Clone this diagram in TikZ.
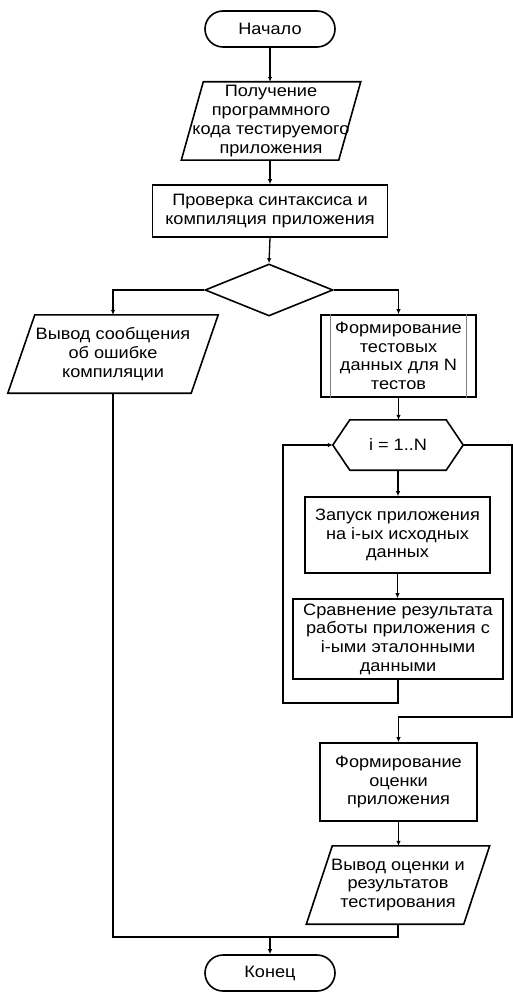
\documentclass[tikz,border=0pt]{standalone}
\usepackage{fontspec}
\setmainfont{Liberation Sans}[FakeStretch=1.1]
\usetikzlibrary{arrows.meta,shapes.geometric}
\newcommand\ftxt{\fontsize{16.5}{18.7}\selectfont}
\begin{document}
\begin{tikzpicture}[x=1pt,y=-1pt,
  outl/.style={draw,line width=1.6pt},
  blk/.style={outl,inner sep=0pt,align=center,font=\ftxt},
  txt/.style={inner sep=0pt,align=center,font=\ftxt},
  term/.style={blk,rounded corners=18pt,minimum width=130pt,minimum height=36pt},
  conn/.style={line width=1.3pt},
  arr/.style={conn,-{Latex[length=5pt,width=4.5pt]}},
  inner/.style={draw=gray,line width=1.2pt}]
\useasboundingbox (0,0) rectangle (513,992);

\node[term] (beg) at (270,29) {Начало};

\node[txt,minimum width=150pt,minimum height=78pt] (p1) at (271,121)
  {Получение\\программного\\кода тестируемого\\приложения};
\draw[outl] ([xshift=11pt]p1.north west) -- ([xshift=11pt]p1.north east)
  -- ([xshift=-11pt]p1.south east) -- ([xshift=-11pt]p1.south west) -- cycle;

\node[blk,minimum width=235pt,minimum height=52pt] (chk) at (270,211)
  {Проверка синтаксиса и\\компиляция приложения};

\node[outl,diamond,minimum width=128pt,minimum height=52pt,inner sep=0pt] (d) at (269,290) {};

\node[txt,minimum width=183pt,minimum height=78pt] (p2) at (113,354)
  {Вывод сообщения\\об ошибке\\компиляции};
\draw[outl] ([xshift=13.5pt]p2.north west) -- ([xshift=13.5pt]p2.north east)
  -- ([xshift=-13.5pt]p2.south east) -- ([xshift=-13.5pt]p2.south west) -- cycle;

\node[blk,minimum width=155pt,minimum height=82pt] (pp) at (398.5,356)
  {Формирование\\тестовых\\данных для N\\тестов};
\draw[inner] ([xshift=10pt]pp.north west) -- ([xshift=10pt]pp.south west);
\draw[inner] ([xshift=-10pt]pp.north east) -- ([xshift=-10pt]pp.south east);

\node[txt,minimum width=130pt,minimum height=50pt] (h) at (398,445) {i = 1..N};
\draw[outl] ([xshift=17pt]h.north west) -- ([xshift=-17pt]h.north east) -- (h.east)
  -- ([xshift=-17pt]h.south east) -- ([xshift=17pt]h.south west) -- (h.west) -- cycle;

\node[blk,minimum width=185pt,minimum height=76pt] (run) at (397.5,535)
  {Запуск приложения\\на i-ых исходных\\данных};

\node[blk,minimum width=210pt,minimum height=80pt] (cmp) at (398,639)
  {Сравнение результата\\работы приложения с\\i-ыми эталонными\\данными};

\node[blk,minimum width=157pt,minimum height=78pt] (ev) at (398.5,782)
  {Формирование\\оценки\\приложения};

\node[txt,minimum width=157pt,minimum height=78pt] (p3) at (398,885)
  {Вывод оценки и\\результатов\\тестирования};
\draw[outl] ([xshift=13pt]p3.north west) -- ([xshift=13pt]p3.north east)
  -- ([xshift=-13pt]p3.south east) -- ([xshift=-13pt]p3.south west) -- cycle;

\node[term] (fin) at (270,973) {Конец};

\coordinate (lb) at (283,703);
\coordinate (rb) at (512,717);
\coordinate (jn) at (270,937);

\draw[arr] (beg.south) -- (beg.south |- p1.north);
\draw[arr] (chk.south |- p1.south) -- (chk.north);
\draw[arr] (chk.south) -- (d.north);
\draw[arr] (d.west) -| (p2.north);
\draw[arr] (d.east) -| (pp.north);
\draw[arr] (pp.south) -- (pp.south |- h.north);
\draw[arr] (h.south) -- (h.south |- run.north);
\draw[arr] (run.south) -- (run.south |- cmp.north);
\draw[arr] (cmp.south) |- (lb) |- (h.west);
\draw[arr] (h.east) -| (rb) -| (ev.north);
\draw[arr] (ev.south) -- (ev.south |- p3.north);
\draw[conn] (p2.south) |- (jn) -| (p3.south);
\draw[arr] (jn) -- (fin.north);
\end{tikzpicture}
\end{document}
